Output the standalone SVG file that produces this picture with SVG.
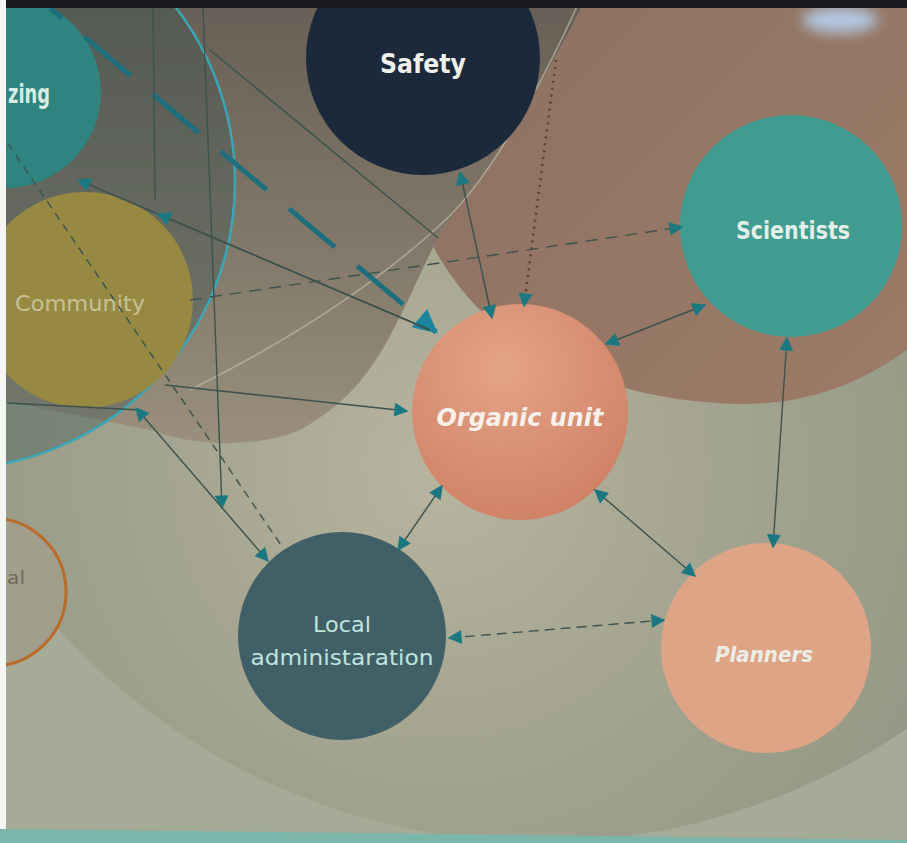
<svg xmlns="http://www.w3.org/2000/svg" width="907" height="843" viewBox="0 0 907 843">
<style>
.ln{fill:none;stroke:#3b524e;stroke-width:1.4}
.lbl{font-family:"DejaVu Sans","Liberation Sans",sans-serif;text-anchor:middle}
</style>
<defs>
<marker id="arr" viewBox="0 0 10 10" refX="9" refY="5" markerWidth="15" markerHeight="14" markerUnits="userSpaceOnUse" orient="auto-start-reverse">
<path d="M0,0 L10,5 L0,10 z" fill="#1c7880"/>
</marker>
<marker id="big" viewBox="0 0 10 10" refX="9" refY="5" markerWidth="26" markerHeight="24" markerUnits="userSpaceOnUse" orient="auto">
<path d="M0,0 L10,5 L0,10 z" fill="#1d84a0"/>
</marker>
<radialGradient id="gA" gradientUnits="userSpaceOnUse" cx="440" cy="470" r="560">
<stop offset="0" stop-color="#b8b59f"/>
<stop offset="0.4" stop-color="#a7a792"/>
<stop offset="1" stop-color="#939884"/>
</radialGradient>
<linearGradient id="gC" gradientUnits="userSpaceOnUse" x1="0" y1="0" x2="0" y2="450">
<stop offset="0" stop-color="#675f55"/>
<stop offset="0.6" stop-color="#857b6c"/>
<stop offset="1" stop-color="#9a907c"/>
</linearGradient>
<linearGradient id="gB" gradientUnits="userSpaceOnUse" x1="500" y1="0" x2="900" y2="400">
<stop offset="0" stop-color="#8d7262"/>
<stop offset="1" stop-color="#9c7b67"/>
</linearGradient>
<radialGradient id="gO" cx="0.42" cy="0.3" r="0.75">
<stop offset="0" stop-color="#e4a387"/>
<stop offset="1" stop-color="#cf8064"/>
</radialGradient>
<filter id="blur" x="-50%" y="-50%" width="200%" height="200%"><feGaussianBlur stdDeviation="7"/></filter>
</defs>

<g id="background">
<rect x="0" y="0" width="907" height="843" fill="#a6ab97"/>
<circle cx="540" cy="190" r="652" fill="url(#gA)"/>
<path d="M440,0 L907,0 L907,350 C850,390 800,404 740,404 C640,402 540,370 480,310 C455,285 438,258 425,230 C415,160 420,80 440,0 Z" fill="url(#gB)"/>
<path d="M0,0 L585,0 C540,90 490,170 445,225 C420,270 410,300 393,330 C370,375 345,405 300,430 C260,447 200,448 150,430 L0,400 Z" fill="url(#gC)"/>
<path d="M580,0 C530,110 480,190 440,225 C380,280 300,335 190,390" fill="none" stroke="#b9b5a6" stroke-width="1.6" opacity="0.75"/>
<circle cx="-52" cy="182" r="287" fill="#35504f" fill-opacity="0.35" stroke="#3ba7b6" stroke-width="2.5"/>
<ellipse cx="840" cy="20" rx="38" ry="13" fill="#b6d2f2" filter="url(#blur)" opacity="0.9"/>
</g>

<g id="node-al">
<circle cx="-8" cy="592" r="74" fill="#a19f8b" stroke="#b96b2b" stroke-width="3"/>
<text x="7" y="584" font-family="DejaVu Sans, sans-serif" font-size="18" fill="#6e6a57" textLength="18" lengthAdjust="spacingAndGlyphs">al</text>
</g>

<g id="node-zing">
<circle cx="5" cy="92" r="96" fill="#2f8480"/>
<text x="8" y="103" font-family="DejaVu Sans, sans-serif" font-size="26" font-weight="bold" fill="#d8ece4" textLength="42" lengthAdjust="spacingAndGlyphs">zing</text>
</g>

<g id="node-community">
<circle cx="85" cy="300" r="108" fill="#978842"/>
<text class="lbl" x="80" y="311" font-size="22" fill="#c6c396" textLength="130" lengthAdjust="spacingAndGlyphs">Community</text>
</g>

<g id="node-safety">
<circle cx="423" cy="58" r="117" fill="#1c293b"/>
<text class="lbl" x="423" y="73" font-size="27" font-weight="bold" fill="#eef0ec" textLength="86" lengthAdjust="spacingAndGlyphs">Safety</text>
</g>

<g id="node-scientists">
<circle cx="791" cy="226" r="111" fill="#409c91"/>
<text class="lbl" x="793" y="239" font-size="24" font-weight="bold" fill="#e2eee6" textLength="114" lengthAdjust="spacingAndGlyphs">Scientists</text>
</g>

<g id="node-organic">
<circle cx="520" cy="412" r="108" fill="url(#gO)"/>
<text class="lbl" x="520" y="426" font-size="24" font-weight="bold" font-style="italic" fill="#f6f1ea" textLength="167" lengthAdjust="spacingAndGlyphs">Organic unit</text>
</g>

<g id="node-local">
<circle cx="342" cy="636" r="104" fill="#405f66"/>
<text class="lbl" x="342" y="632" font-size="21" fill="#bfe5de" textLength="58" lengthAdjust="spacingAndGlyphs">Local</text>
<text class="lbl" x="342" y="665" font-size="21" fill="#bfe5de" textLength="183" lengthAdjust="spacingAndGlyphs">administaration</text>
</g>

<g id="node-planners">
<circle cx="766" cy="648" r="105" fill="#dea486"/>
<text class="lbl" x="764" y="662" font-size="22" font-weight="bold" font-style="italic" fill="#eceee6" textLength="98" lengthAdjust="spacingAndGlyphs">Planners</text>
</g>

<g id="connectors">
<line x1="50" y1="8" x2="436" y2="332" stroke="#1e6f7e" stroke-width="5" stroke-dasharray="60 29" stroke-dashoffset="44" marker-end="url(#big)"/>
<line class="ln" x1="430" y1="330" x2="78" y2="180" marker-end="url(#arr)"/>
<line class="ln" x1="430" y1="330" x2="158" y2="214" marker-end="url(#arr)"/>
<line class="ln" x1="210" y1="50" x2="438" y2="238"/>
<line class="ln" x1="153" y1="8" x2="155" y2="200"/>
<line class="ln" x1="203" y1="8" x2="222" y2="508" marker-end="url(#arr)"/>
<line class="ln" x1="0" y1="132" x2="283" y2="548" stroke-dasharray="8 6"/>
<line class="ln" x1="7" y1="403" x2="140" y2="410"/>
<line class="ln" x1="165" y1="385" x2="407" y2="411" marker-end="url(#arr)"/>
<line class="ln" x1="190" y1="300" x2="682" y2="227" stroke-dasharray="12 8" marker-end="url(#arr)"/>
<line class="ln" x1="460" y1="172" x2="492" y2="318" marker-start="url(#arr)" marker-end="url(#arr)"/>
<line x1="556" y1="60" x2="524" y2="306" stroke="#5c4032" stroke-width="2.5" stroke-dasharray="2 5" marker-end="url(#arr)"/>
<line class="ln" x1="606" y1="344" x2="705" y2="305" marker-start="url(#arr)" marker-end="url(#arr)"/>
<line class="ln" x1="787" y1="338" x2="773" y2="547" marker-start="url(#arr)" marker-end="url(#arr)"/>
<line class="ln" x1="595" y1="490" x2="695" y2="576" marker-start="url(#arr)" marker-end="url(#arr)"/>
<line class="ln" x1="449" y1="638" x2="664" y2="620" stroke-dasharray="10 6" marker-start="url(#arr)" marker-end="url(#arr)"/>
<line class="ln" x1="398" y1="550" x2="442" y2="486" marker-start="url(#arr)" marker-end="url(#arr)"/>
<line class="ln" x1="136" y1="408" x2="268" y2="561" marker-start="url(#arr)" marker-end="url(#arr)"/>
</g>

<g id="frame">
<rect x="0" y="0" width="907" height="8" fill="#1a1b1f"/>
<rect x="0" y="0" width="6" height="843" fill="#f4f6f4"/>
<polygon points="0,829 450,834 907,840 907,843 0,843" fill="#7cb5aa"/>
</g>
</svg>
